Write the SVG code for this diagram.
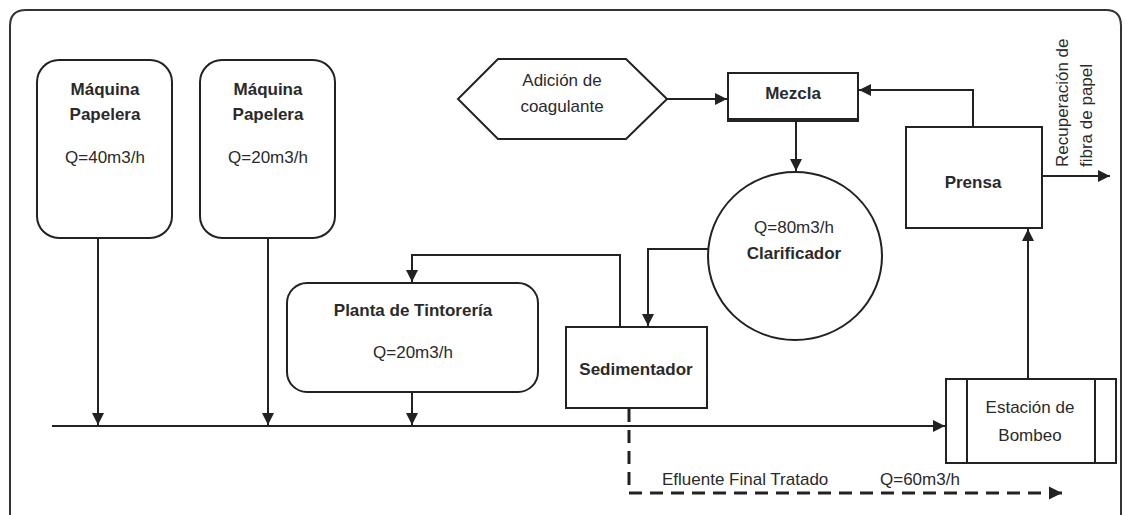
<svg xmlns="http://www.w3.org/2000/svg" width="1125" height="515" viewBox="0 0 1125 515">
<style>
.box{fill:#fff;stroke:#222;stroke-width:2}
.t{font-family:"Liberation Sans",Arial,sans-serif;font-size:17px;fill:#2a2a2a;text-anchor:middle}
.b{font-weight:bold}
.ln{fill:none;stroke:#222;stroke-width:2}
.dash{fill:none;stroke:#222;stroke-width:3;stroke-dasharray:13 8}
</style>
<defs>
<marker id="ah" viewBox="0 0 10 10" refX="10" refY="5" markerWidth="6" markerHeight="6" markerUnits="strokeWidth" orient="auto">
<path d="M0,0 L10,5 L0,10 z" fill="#222"/>
</marker>
<marker id="ahd" viewBox="0 0 10 10" refX="10" refY="5" markerWidth="4.5" markerHeight="4.5" markerUnits="strokeWidth" orient="auto">
<path d="M0,0 L10,5 L0,10 z" fill="#222"/>
</marker>
</defs>
<rect width="1125" height="515" fill="#fff"/>
<path d="M10,520 L10,26 Q10,10 26,10 L1106,10 Q1121,10 1121,26 L1121,520" fill="none" stroke="#333" stroke-width="2"/>

<g id="maquina1">
<rect class="box" x="37" y="60" width="135" height="178" rx="22"/>
<text class="t b" x="105" y="95">Máquina</text>
<text class="t b" x="105" y="120">Papelera</text>
<text class="t" x="105" y="163">Q=40m3/h</text>
</g>
<g id="maquina2">
<rect class="box" x="200" y="60" width="135" height="178" rx="22"/>
<text class="t b" x="268" y="95">Máquina</text>
<text class="t b" x="268" y="120">Papelera</text>
<text class="t" x="268" y="163">Q=20m3/h</text>
</g>
<g id="tintoreria">
<rect class="box" x="287" y="283" width="251" height="109" rx="20"/>
<text class="t b" x="413" y="316">Planta de Tintorería</text>
<text class="t" x="413" y="358">Q=20m3/h</text>
</g>
<g id="sedimentador">
<rect class="box" x="566" y="327" width="141" height="81"/>
<text class="t b" x="636" y="375">Sedimentador</text>
</g>
<g id="coagulante">
<polygon class="box" points="458,99 498,59 626,59 667,99 626,139 498,139"/>
<text class="t" x="562" y="86">Adición de</text>
<text class="t" x="562" y="112">coagulante</text>
</g>
<g id="mezcla">
<rect class="box" x="728" y="73" width="130" height="47"/>
<line x1="727" y1="120" x2="859" y2="120" stroke="#222" stroke-width="4"/>
<text class="t b" x="793" y="99">Mezcla</text>
</g>
<g id="clarificador">
<ellipse class="box" cx="795" cy="256" rx="87" ry="84"/>
<text class="t" x="794" y="233">Q=80m3/h</text>
<text class="t b" x="794" y="259">Clarificador</text>
</g>
<g id="prensa">
<rect class="box" x="906" y="127" width="136" height="101"/>
<text class="t b" x="973" y="188">Prensa</text>
</g>
<g id="bombeo">
<rect class="box" x="946" y="379" width="170" height="84"/>
<line class="ln" x1="967" y1="379" x2="967" y2="463"/>
<line class="ln" x1="1095" y1="379" x2="1095" y2="463"/>
<text class="t" x="1030" y="413">Estación de</text>
<text class="t" x="1030" y="441">Bombeo</text>
</g>
<g id="labels">
<text class="t" transform="translate(1068,167) rotate(-90)" style="text-anchor:start">Recuperación de</text>
<text class="t" transform="translate(1092,167) rotate(-90)" style="text-anchor:start">fibra de papel</text>
<text class="t" x="662" y="485" style="text-anchor:start">Efluente Final Tratado</text>
<text class="t" x="880" y="485" style="text-anchor:start">Q=60m3/h</text>
</g>
<g id="connectors">
<line class="ln" x1="52" y1="426" x2="945" y2="426" marker-end="url(#ah)"/>
<line class="ln" x1="98" y1="238" x2="98" y2="425" marker-end="url(#ah)"/>
<line class="ln" x1="268" y1="238" x2="268" y2="425" marker-end="url(#ah)"/>
<line class="ln" x1="412" y1="392" x2="412" y2="425" marker-end="url(#ah)"/>
<polyline class="ln" points="620,327 620,255 412,255 412,282" marker-end="url(#ah)"/>
<polyline class="ln" points="708,249 648,249 648,326" marker-end="url(#ah)"/>
<line class="ln" x1="667" y1="99" x2="727" y2="99" marker-end="url(#ah)"/>
<line class="ln" x1="796" y1="122" x2="796" y2="171" marker-end="url(#ah)"/>
<polyline class="ln" points="973,127 973,90 859,90" marker-end="url(#ah)"/>
<line class="ln" x1="1042" y1="176" x2="1110" y2="176" marker-end="url(#ah)"/>
<line class="ln" x1="1028" y1="379" x2="1028" y2="229" marker-end="url(#ah)"/>
<polyline class="dash" points="629,409 629,493 1062,493" marker-end="url(#ahd)"/>
</g>
</svg>
